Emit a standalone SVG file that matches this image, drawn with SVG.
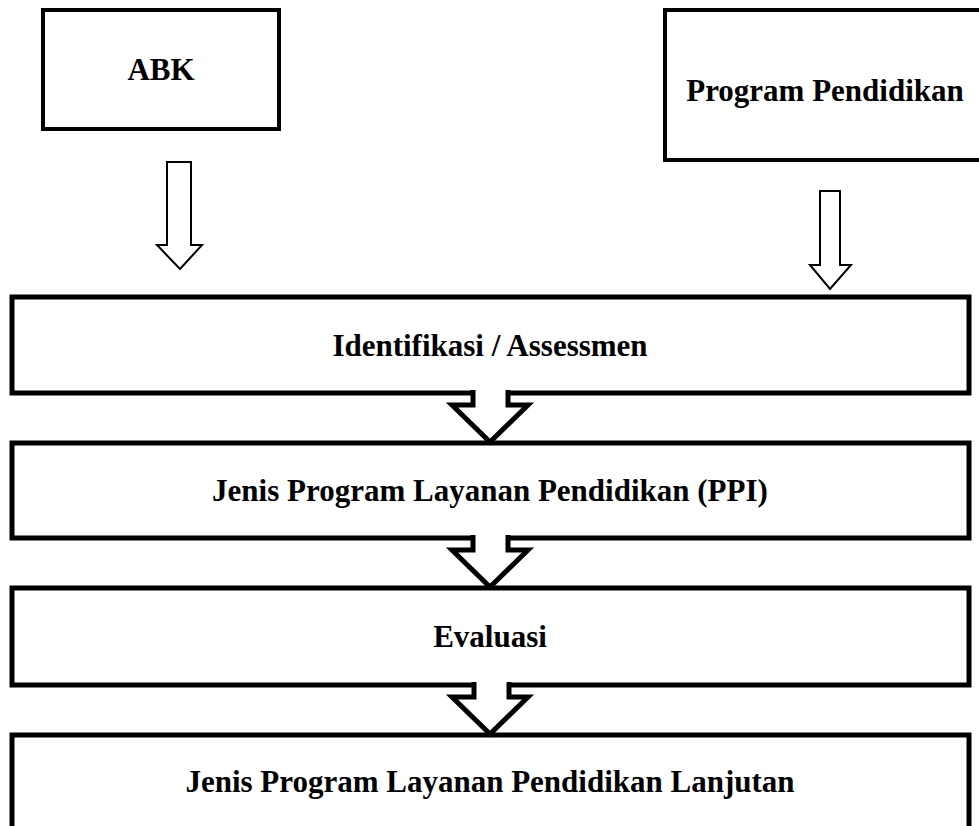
<svg xmlns="http://www.w3.org/2000/svg" width="979" height="826" viewBox="0 0 979 826">
<style>
.box{fill:#fff;stroke:#000;stroke-width:5}
.top{fill:#fff;stroke:#000;stroke-width:4}
.lbl{font-family:"Liberation Serif","Times New Roman",serif;font-weight:bold;font-size:31px;fill:#000;text-anchor:middle}
.hollow{fill:#fff;stroke:#000;stroke-width:2;stroke-linejoin:miter}
.notch{fill:#fff;stroke:#000;stroke-width:5;stroke-linejoin:miter}
</style>
<rect width="979" height="826" fill="#fff"/>
<g id="abk">
<rect class="top" x="43" y="10" width="236" height="119"/>
<text class="lbl" x="161" y="80">ABK</text>
</g>
<g id="program-pendidikan">
<rect class="top" x="665" y="10" width="330" height="150"/>
<text class="lbl" x="825" y="101">Program Pendidikan</text>
</g>
<g id="identifikasi">
<rect class="box" x="12" y="297" width="957" height="96"/>
<text class="lbl" x="490" y="356">Identifikasi / Assessmen</text>
</g>
<g id="ppi">
<rect class="box" x="12" y="443" width="957" height="95"/>
<text class="lbl" x="490" y="501">Jenis Program Layanan Pendidikan (PPI)</text>
</g>
<g id="evaluasi">
<rect class="box" x="12" y="588" width="957" height="97"/>
<text class="lbl" x="490" y="647">Evaluasi</text>
</g>
<g id="lanjutan">
<rect class="box" x="12" y="735" width="957" height="110"/>
<text class="lbl" x="490" y="792">Jenis Program Layanan Pendidikan Lanjutan</text>
</g>
<g id="connectors">
<path class="hollow" d="M167 162 L191 162 L191 245 L202 245 L180 269 L157 245 L167 245 Z"/>
<path class="hollow" d="M820 191 L840 191 L840 265 L851 265 L830 289 L810 265 L820 265 Z"/>
<path class="notch" d="M473 390 L473 405 L452 405 L490 442 L528 405 L508 405 L508 390"/>
<path class="notch" d="M473 535 L473 550 L452 550 L490 587 L528 550 L508 550 L508 535"/>
<path class="notch" d="M474 682 L474 697 L452 697 L490 734 L528 697 L509 697 L509 682"/>
</g>
</svg>
